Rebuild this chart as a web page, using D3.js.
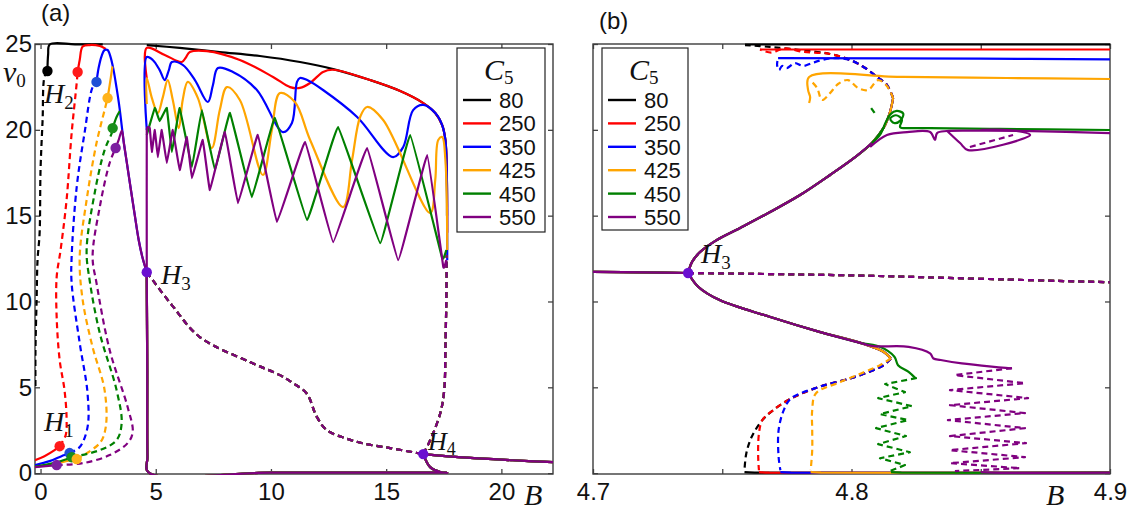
<!DOCTYPE html>
<html>
<head>
<meta charset="utf-8">
<script src="https://cdn.jsdelivr.net/npm/d3@7"></script>
<style>
body { margin: 0; background: #fff; }
.tick text { font-family: "Liberation Sans", Arial, sans-serif; font-size: 24px; fill: #111; }
.tick line { stroke: #444; stroke-width: 1.3; }
.math { font-family: "Liberation Serif", "DejaVu Serif", serif; font-style: italic; fill: #111; }
.plain { font-family: "Liberation Sans", Arial, sans-serif; fill: #111; }
</style>
</head>
<body>
<script>
/* ----------------------------------------------------------------------------
Bifurcation diagram v0 against B for several C5 values, (a) full range and
(b) a zoom around H3. Curves are read off the figure by eye.
-----------------------------------------------------------------------------*/

// Legend categories (C5)
var c5Labels = ["80", "250", "350", "425", "450", "550"];
var lineColors = ["#000000", "#ff0000", "#0000ff", "#ffa500", "#008000",
    "#800080"];
var dotColors = ["#000000", "#ff1a1a", "#1f4fd6", "#ffb31a", "#1a8f1a",
    "#7d1fa0"];

// Tick values
var xTicksA = [0, 5, 10, 15, 20];
var yTicks = [0, 5, 10, 15, 20, 25];
var xTicksB = [4.7, 4.75, 4.8, 4.85, 4.9];

// ---------------- panel (a) ----------------
// stable low branch up to H1 (one list per C5)
var lowStableA = [
    [],
    [[-0.24, 0.76], [0.17, 0.99], [0.61, 1.34], [0.83, 1.57]],
    [[-0.24, 0.47], [0.39, 0.70], [0.91, 0.99], [1.26, 1.17]],
    [[-0.24, 0.35], [0.61, 0.55], [1.20, 0.72], [1.57, 0.82]],
    [[-0.24, 0.38], [0.61, 0.60], [1.35, 0.93]],
    [[-0.24, 0.35], [0.70, 0.47]]
];

// unstable branch H1 -> H2
var unstableA = [
    [[0.30, 23.43], [0.17, 23.08], [0.09, 20.57], [0.00, 17.66],
     [-0.04, 13.98], [-0.13, 12.41], [-0.17, 10.08], [-0.22, 7.17],
     [-0.22, 5.0]],
    [[0.83, 1.57], [1.09, 2.21], [1.13, 3.21], [1.04, 4.84], [0.83, 6.59],
     [0.70, 9.09], [0.70, 11.42], [0.87, 13.0], [1.13, 15.91], [1.35, 19.81],
     [1.57, 22.73], [1.61, 23.37]],
    [[1.26, 1.17], [1.70, 1.52], [2.04, 2.68], [2.04, 4.66], [1.70, 7.58],
     [1.35, 11.07], [1.35, 12.59], [1.57, 16.67], [1.91, 19.81],
     [2.26, 22.49], [2.43, 22.79]],
    [[1.57, 0.82], [2.57, 1.75], [2.83, 2.68], [2.78, 4.84], [2.26, 7.34],
     [1.83, 10.08], [1.70, 12.59], [2.00, 15.91], [2.43, 19.23],
     [2.78, 21.15], [2.91, 21.85]],
    [[1.35, 0.93], [2.57, 1.34], [3.30, 1.92], [3.52, 2.91], [3.30, 4.84],
     [2.57, 8.16], [2.13, 11.25], [2.00, 13.0], [2.35, 16.32], [2.78, 18.82],
     [3.09, 19.81], [3.13, 20.10]],
    [[0.70, 0.47], [1.83, 0.58], [3.00, 1.05], [3.78, 1.75], [4.00, 2.39],
     [3.78, 3.85], [3.00, 7.17], [2.43, 11.07], [2.26, 12.59], [2.57, 15.50],
     [3.00, 18.07], [3.26, 18.94]]
];

// stable branch from H2 upwards (blue and purple run on down to H3)
var upperA = [
    [[0.30, 23.43], [0.33, 24.4], [0.40, 24.97], [1.5, 24.98], [2.7, 24.98]],
    [[1.61, 23.37], [1.70, 24.07], [1.83, 24.85], [2.13, 24.94],
     [2.57, 24.88], [2.83, 24.71]],
    [[2.43, 22.79], [2.52, 23.60], [2.65, 24.30], [2.78, 24.65],
     [2.91, 24.65], [3.04, 24.24], [3.17, 23.48], [3.30, 22.44],
     [3.43, 21.27], [3.52, 20.28], [3.61, 19.29], [3.74, 18.13],
     [3.91, 16.61], [4.09, 15.03], [4.26, 13.58], [4.43, 12.53],
     [4.61, 11.71]],
    [[2.91, 21.85], [3.00, 22.60], [3.12, 23.70]],
    [[3.13, 20.10], [3.30, 20.75], [3.44, 21.10]],
    [[3.26, 18.94], [3.40, 19.45], [3.53, 19.95], [3.61, 19.29],
     [3.74, 18.13], [3.91, 16.61], [4.09, 15.03], [4.26, 13.58],
     [4.43, 12.53], [4.61, 11.71]]
];

// oscillating stable branches between B ~ 4.6 and 17.6
var periodicA = [
    [[4.61, 24.94], [6.04, 24.77], [7.78, 24.53], [9.52, 24.30],
     [11.26, 23.95], [12.70, 23.54], [14.30, 22.90], [15.61, 22.26],
     [16.61, 21.56], [17.13, 20.98], [17.43, 20.28], [17.57, 19.41],
     [17.63, 17.5], [17.64, 15.0]],
    [[4.61, 23.0], [4.61, 24.77], [5.39, 24.36], [6.13, 23.95],
     [6.30, 24.20], [6.48, 24.53], [7.22, 24.59], [8.65, 24.07],
     [10.09, 23.08], [10.83, 22.49], [11.26, 22.44], [11.70, 22.73],
     [12.26, 23.37], [12.70, 23.50], [14.30, 22.90], [15.61, 22.26],
     [16.61, 21.56], [17.13, 20.98], [17.43, 20.28], [17.57, 19.41],
     [17.63, 17.5], [17.65, 14.0]],
    [[4.61, 20.0], [4.61, 24.24], [4.87, 24.07], [5.17, 23.48],
     [5.39, 22.90], [5.57, 23.48], [5.70, 23.95], [6.17, 23.78],
     [6.70, 22.90], [7.26, 21.62], [7.48, 22.60], [7.70, 23.60],
     [8.35, 23.37], [9.39, 22.32], [10.52, 19.87], [10.91, 20.40],
     [11.13, 22.79], [11.26, 23.02], [11.57, 22.90], [12.26, 22.32],
     [13.74, 20.75], [15.30, 18.41], [15.74, 19.00], [16.17, 21.15],
     [16.61, 21.45], [17.13, 20.98], [17.43, 20.28], [17.57, 19.41],
     [17.63, 17.5], [17.65, 12.4]],
    [[4.61, 21.5], [4.61, 23.02], [4.83, 21.86], [5.09, 20.98],
     [5.30, 21.86], [5.52, 22.90], [5.74, 21.74], [6.00, 20.10],
     [6.17, 21.74], [6.39, 22.79], [6.83, 21.85], [7.43, 18.94],
     [7.78, 21.15], [8.09, 22.49], [8.65, 21.74], [9.65, 17.37],
     [10.04, 19.99], [10.39, 22.14], [11.04, 21.62], [11.70, 19.41],
     [13.13, 15.50], [13.52, 18.24], [13.87, 20.75], [14.17, 21.33],
     [14.87, 20.57], [16.91, 15.15], [17.13, 17.08], [17.26, 19.41],
     [17.43, 19.58], [17.57, 18.24], [17.65, 13.0]],
    [[4.61, 19.70], [4.96, 21.27], [5.17, 20.51], [5.48, 21.27],
     [5.70, 18.71], [6.04, 21.27], [6.57, 17.83], [7.00, 21.15],
     [7.57, 17.66], [8.22, 20.98], [9.17, 16.08], [10.17, 20.69],
     [11.57, 14.74], [12.91, 20.16], [14.74, 13.40], [16.04, 19.70],
     [17.43, 12.53], [17.61, 13.0]],
    [[4.61, 11.71], [4.61, 19.99], [4.74, 20.10], [4.83, 18.71],
     [4.96, 19.99], [5.09, 18.41], [5.26, 19.99], [5.48, 18.07],
     [5.74, 19.99], [6.04, 17.66], [6.35, 19.58], [6.57, 17.19],
     [7.04, 19.41], [7.35, 16.49], [8.00, 19.87], [8.57, 15.73],
     [9.43, 19.70], [10.26, 14.63], [11.48, 19.29], [12.70, 13.46],
     [14.17, 18.94], [15.52, 12.41], [16.78, 18.53], [17.48, 12.00],
     [17.61, 12.41]]
];

// shared pieces (same for every C5)
var bottomA = [[4.61, 11.71], [4.63, 6.0], [4.64, 1.0], [4.68, 0.05],
    [10.0, 0.03], [17.40, 0.03], [17.65, 0.02], [17.35, 0.07],
    [16.91, 0.35], [16.61, 1.11]];
var h3h4DashA = [[4.61, 11.71], [5.70, 9.79], [6.91, 7.93], [9.09, 6.47],
    [10.39, 5.71], [10.96, 5.24], [11.55, 4.64], [11.99, 3.28],
    [12.42, 2.51], [13.22, 2.04], [14.01, 1.73], [15.17, 1.46],
    [16.61, 1.11]];
var h4RightA = [[16.61, 1.11], [18.5, 0.90], [20.5, 0.75], [22.24, 0.64]];
var h4UpA = [[16.61, 1.11], [16.91, 1.92], [17.35, 3.50], [17.52, 4.84],
    [17.57, 7.17], [17.61, 10.08], [17.63, 12.7]];

// Hopf points
var h1A = [null, [0.83, 1.57], [1.26, 1.17], [1.57, 0.82], [1.35, 0.93],
    [0.70, 0.47]];
var h2A = [[0.30, 23.43], [1.61, 23.37], [2.43, 22.79], [2.91, 21.85],
    [3.13, 20.10], [3.26, 18.94]];
var h3A = [4.61, 11.71];
var h4A = [16.61, 1.11];

// ---------------- panel (b) ----------------
var flatB = [[4.70, 11.72], [4.72, 11.70], [4.7368, 11.66]];
var h3DashB = [[4.7368, 11.66], [4.80, 11.52], [4.85, 11.32], [4.90, 11.12]];
var upperB = [[4.7368, 11.66], [4.7383, 12.30], [4.7414, 12.88],
    [4.7472, 13.52], [4.7569, 14.28], [4.7685, 15.21], [4.7801, 16.20],
    [4.7917, 17.37], [4.8014, 18.41], [4.8079, 19.23], [4.8126, 20.16],
    [4.8149, 21.04], [4.8161, 21.85]];
var lowerB = [[4.7368, 11.66], [4.7407, 10.86], [4.7490, 10.08],
    [4.7683, 9.11], [4.7876, 8.23], [4.8041, 7.56], [4.8124, 7.07],
    [4.8152, 6.68]];

// top of panel (b): dashed return and solid plateau per C5
var topDashB = [
    [[4.8161, 21.85], [4.8137, 22.61], [4.8099, 23.08], [4.8053, 23.60],
     [4.7994, 24.07], [4.7917, 24.42], [4.7801, 24.65], [4.7685, 24.83],
     [4.7588, 24.94]],
    [[4.8161, 21.85], [4.8137, 22.61], [4.8099, 23.08], [4.8053, 23.60],
     [4.7994, 24.07], [4.7917, 24.42], [4.7810, 24.55], [4.7740, 24.75],
     [4.7690, 24.50], [4.7646, 24.68]],
    [[4.8161, 21.85], [4.8137, 22.61], [4.8099, 23.08], [4.8053, 23.60],
     [4.7994, 24.07], [4.7936, 24.18], [4.7886, 24.07], [4.7847, 23.89],
     [4.7812, 23.72], [4.7781, 23.89], [4.7750, 23.60], [4.7731, 23.72],
     [4.7720, 23.48], [4.7712, 23.78], [4.7716, 24.18]],
    [[4.8161, 21.85], [4.8137, 22.55], [4.8103, 22.90], [4.8064, 22.32],
     [4.8025, 22.44], [4.7986, 22.90], [4.7948, 22.67], [4.7917, 22.14],
     [4.7886, 21.74], [4.7867, 22.44], [4.7847, 22.79]],
    [],
    []
];
var topSolidB = [
    [[4.7588, 24.97], [4.90, 24.97]],
    [[4.7646, 24.68], [4.90, 24.68]],
    [[4.7716, 24.18], [4.85, 24.15], [4.90, 24.10]],
    [[4.7836, 21.56], [4.7840, 21.91], [4.7832, 22.32], [4.7836, 23.08],
     [4.82, 23.08], [4.86, 23.02], [4.90, 22.96]],
    [[4.8079, 19.23], [4.8110, 19.70], [4.8133, 20.45], [4.8150, 20.90],
     [4.8175, 21.10], [4.8200, 20.95], [4.8190, 20.55], [4.8165, 20.40],
     [4.8150, 20.65], [4.8172, 20.85], [4.8195, 20.60], [4.8188, 20.16],
     [4.8226, 20.10], [4.8304, 20.10], [4.8574, 20.05], [4.90, 19.99]],
    [[4.8072, 19.0], [4.8137, 19.70], [4.8215, 19.87], [4.8304, 19.87],
     [4.8323, 19.41], [4.8331, 19.81], [4.8369, 19.93], [4.85, 19.95],
     [4.87, 19.93], [4.90, 19.81]]
];
var greenBitsB = [[4.8076, 21.27], [4.8095, 20.86]];
var purpleLoopB = [[4.8369, 19.95], [4.8420, 19.23], [4.8451, 18.82],
    [4.8691, 19.70], [4.8663, 19.87], [4.8600, 19.99], [4.8500, 20.0]];
var purpleLoopDashB = [[4.8458, 19.0], [4.8625, 19.70]];

// lower part of panel (b): branch after the fold, dashed return, bottom
var lowDashB = [
    [[4.8152, 6.68], [4.8124, 6.29], [4.8014, 5.61], [4.7876, 5.03],
     [4.7766, 4.35], [4.7697, 3.67], [4.7655, 3.09], [4.7614, 2.12],
     [4.7593, 1.15], [4.7586, 0.17]],
    [[4.8152, 6.68], [4.8124, 6.29], [4.8014, 5.61], [4.7876, 5.03],
     [4.7766, 4.35], [4.7697, 3.67], [4.7655, 3.09], [4.7642, 2.31],
     [4.7639, 0.95], [4.7642, 0.17]],
    [[4.8152, 6.68], [4.8124, 6.29], [4.8014, 5.61], [4.7876, 5.03],
     [4.7766, 4.35], [4.7738, 3.67], [4.7718, 2.50], [4.7718, 0.95],
     [4.7725, 0.17]],
    [[4.8152, 6.68], [4.8110, 6.29], [4.7959, 5.32], [4.7862, 4.64],
     [4.7848, 3.67], [4.7848, 2.50], [4.7848, 1.34], [4.7842, 0.17]],
    [],
    []
];
var lowSolidB = [
    [],
    [],
    [],
    [],
    [[4.8041, 7.56], [4.8110, 7.36], [4.8166, 6.78], [4.8180, 6.29],
     [4.8221, 5.90], [4.8248, 5.52]],
    [[4.8041, 7.56], [4.8083, 7.40], [4.8221, 7.36], [4.8304, 6.98],
     [4.8317, 6.68], [4.8345, 6.59], [4.8427, 6.39], [4.8620, 6.10]]
];
// zig-zag dashed pieces (C5 = 450 and 550)
var zigzagB = [
    [], [], [], [],
    [[4.8253, 5.54], [4.8130, 5.19], [4.8207, 4.72], [4.8103, 4.37],
     [4.8234, 3.90], [4.8110, 3.44], [4.8219, 3.09], [4.8095, 2.62],
     [4.8211, 2.16], [4.8103, 1.69], [4.8226, 1.22], [4.8110, 0.87],
     [4.8207, 0.47], [4.8149, 0.12]],
    [[4.8621, 6.12], [4.8400, 5.71], [4.8671, 5.24], [4.8381, 4.84],
     [4.8683, 4.37], [4.8381, 3.96], [4.8671, 3.50], [4.8373, 3.09],
     [4.8671, 2.62], [4.8381, 2.16], [4.8675, 1.75], [4.8381, 1.34],
     [4.8671, 0.93], [4.8381, 0.58], [4.8652, 0.29], [4.8400, 0.12]]
];
var bottomStartB = [4.7586, 4.7642, 4.7725, 4.7842, 4.8153, 4.850];
var bottomEndB = 4.9;
var h3B = [4.7368, 11.66];

// ---------------- drawing ----------------
var svg = d3.select("body")
    .append("svg")
    .attr("width", 1130)
    .attr("height", 511);

var plotTop = 44, plotBottom = 474;
var y = d3.scaleLinear().domain([-0.05, 25]).range([plotBottom, plotTop]);
var xA = d3.scaleLinear().domain([-0.24, 22.24]).range([35, 553]);
var xB = d3.scaleLinear().domain([4.7, 4.9]).range([593, 1110]);

var defs = svg.append("defs");
[["clipA", xA], ["clipB", xB]].forEach(function(c) {
    var r = c[1].range();
    defs.append("clipPath").attr("id", c[0])
        .append("rect")
        .attr("x", r[0]).attr("y", plotTop - 2)
        .attr("width", r[1] - r[0]).attr("height", plotBottom - plotTop + 3);
});

function curveLine(x, curve) {
    return d3.line()
        .x(function(d) { return x(d[0]); })
        .y(function(d) { return y(d[1]); })
        .curve(curve || d3.curveCatmullRom.alpha(0.5));
}

function draw(g, data, x, color, dashed, curve) {
    if (!data || data.length < 2) return;
    g.append("path")
        .attr("d", curveLine(x, curve)(data))
        .attr("fill", "none")
        .attr("stroke", color)
        .attr("stroke-width", 2.2)
        .attr("stroke-linejoin", "round")
        .attr("stroke-dasharray", dashed ? "6,4" : null);
}

function dot(g, p, x, color) {
    g.append("circle")
        .attr("cx", x(p[0])).attr("cy", y(p[1]))
        .attr("r", 5.2)
        .attr("fill", color);
}

// frame and ticks
function drawAxes(x, xTicks, xFmt, showY) {
    var r = x.range();
    svg.append("g")
        .attr("transform", "translate(0," + plotBottom + ")")
        .call(d3.axisBottom(x).tickValues(xTicks).tickSizeInner(-5)
            .tickSizeOuter(0).tickPadding(9).tickFormat(xFmt))
        .select(".domain").remove();
    svg.append("g")
        .attr("transform", "translate(0," + plotTop + ")")
        .call(d3.axisTop(x).tickValues(xTicks).tickSizeInner(-5)
            .tickSizeOuter(0).tickFormat(""))
        .select(".domain").remove();
    svg.append("g")
        .attr("transform", "translate(" + r[0] + ",0)")
        .call(d3.axisLeft(y).tickValues(yTicks).tickSizeInner(-5)
            .tickSizeOuter(0).tickPadding(3)
            .tickFormat(showY ? d3.format("d") : ""))
        .select(".domain").remove();
    svg.append("g")
        .attr("transform", "translate(" + r[1] + ",0)")
        .call(d3.axisRight(y).tickValues(yTicks).tickSizeInner(-5)
            .tickSizeOuter(0).tickFormat(""))
        .select(".domain").remove();
    svg.append("rect")
        .attr("x", r[0]).attr("y", plotTop)
        .attr("width", r[1] - r[0]).attr("height", plotBottom - plotTop)
        .attr("fill", "none")
        .attr("stroke", "#3c3c3c")
        .attr("stroke-width", 1.4);
}

drawAxes(xA, xTicksA, d3.format("d"), true);
drawAxes(xB, xTicksB, function(d) {
    return Math.abs(d * 10 - Math.round(d * 10)) < 1e-6 ? d.toFixed(1) : "";
}, false);

// panel (a) curves
var gA = svg.append("g").attr("clip-path", "url(#clipA)");
lineColors.forEach(function(col, i) {
    draw(gA, lowStableA[i], xA, col, false);
    draw(gA, unstableA[i], xA, col, true);
    draw(gA, upperA[i], xA, col, false);
    // sharper saw-tooth for the two largest C5
    draw(gA, periodicA[i], xA, col, false,
        i >= 4 ? d3.curveCardinal.tension(0.82) : null);
    draw(gA, bottomA, xA, col, false);
    draw(gA, h4RightA, xA, col, false);
    draw(gA, h3h4DashA, xA, col, true);
    draw(gA, h4UpA, xA, col, true);
});
lineColors.forEach(function(col, i) {
    dot(gA, h2A[i], xA, dotColors[i]);
});
[2, 4, 3, 1, 5].forEach(function(i) {
    dot(gA, h1A[i], xA, dotColors[i]);
});
dot(gA, h3A, xA, "#6a0fd0");
dot(gA, h4A, xA, "#6a0fd0");

// panel (b) curves
var gB = svg.append("g").attr("clip-path", "url(#clipB)");
lineColors.forEach(function(col, i) {
    draw(gB, flatB, xB, col, false);
    draw(gB, h3DashB, xB, col, true);
    draw(gB, i < 4 ? upperB : upperB.slice(0, i == 4 ? 11 : 10), xB, col,
        false);
    draw(gB, topDashB[i], xB, col, true);
    draw(gB, topSolidB[i], xB, col, false);
    draw(gB, i < 4 ? lowerB : lowerB.slice(0, 6), xB, col, false);
    draw(gB, lowDashB[i], xB, col, true);
    draw(gB, lowSolidB[i], xB, col, false);
    draw(gB, zigzagB[i], xB, col, true, d3.curveLinear);
    draw(gB, [[bottomStartB[i], 0.06], [bottomStartB[i] + 0.004, 0.03],
        [bottomEndB, 0.03]], xB, col, false);
    if (i == 4) {
        draw(gB, greenBitsB, xB, col, true, d3.curveLinear);
    }
    if (i == 5) {
        draw(gB, purpleLoopB, xB, col, false);
        draw(gB, purpleLoopDashB, xB, col, true, d3.curveLinear);
    }
});
dot(gB, h3B, xB, "#6a0fd0");

// labels with subscripts
function mathLabel(x0, yb, main, sub, size, subSize, subDy) {
    var t = svg.append("text").attr("class", "math")
        .attr("x", x0).attr("y", yb)
        .style("font-size", size + "px");
    t.append("tspan").text(main);
    if (sub) {
        t.append("tspan").text(sub)
            .attr("dy", subDy)
            .style("font-style", "normal")
            .style("font-size", subSize + "px");
    }
}

mathLabel(3, 82, "v", "0", 30, 19, 5);
mathLabel(44, 103, "H", "2", 28, 19, 6);
mathLabel(44, 431, "H", "1", 28, 19, 6);
mathLabel(161, 284, "H", "3", 28, 19, 6);
mathLabel(428, 450, "H", "4", 26, 18, 5);
mathLabel(701, 263, "H", "3", 28, 19, 6);
mathLabel(524, 505, "B", null, 30);
mathLabel(1046, 505, "B", null, 30);

svg.append("text").attr("class", "plain")
    .attr("x", 41).attr("y", 21).style("font-size", "24px").text("(a)");
svg.append("text").attr("class", "plain")
    .attr("x", 599).attr("y", 29).style("font-size", "24px").text("(b)");

// legends
function drawLegend(x0, y0, w, h) {
    var g = svg.append("g");
    g.append("rect")
        .attr("x", x0).attr("y", y0).attr("width", w).attr("height", h)
        .attr("fill", "#fff").attr("stroke", "#222").attr("stroke-width", 1.2);
    var t = g.append("text").attr("class", "math")
        .attr("x", x0 + 27).attr("y", y0 + 32).style("font-size", "30px");
    t.append("tspan").text("C");
    t.append("tspan").text("5").attr("dy", 4)
        .style("font-style", "normal").style("font-size", "19px");
    c5Labels.forEach(function(lab, i) {
        var ly = y0 + 52 + i * 23.4;
        g.append("line")
            .attr("x1", x0 + 6).attr("x2", x0 + 34)
            .attr("y1", ly).attr("y2", ly)
            .attr("stroke", lineColors[i]).attr("stroke-width", 2.4);
        g.append("text").attr("class", "plain")
            .attr("x", x0 + 42).attr("y", ly + 8)
            .style("font-size", "22px").text(lab);
    });
}

drawLegend(457, 48, 88, 184);
drawLegend(602, 48, 86, 182);
</script>
</body>
</html>
